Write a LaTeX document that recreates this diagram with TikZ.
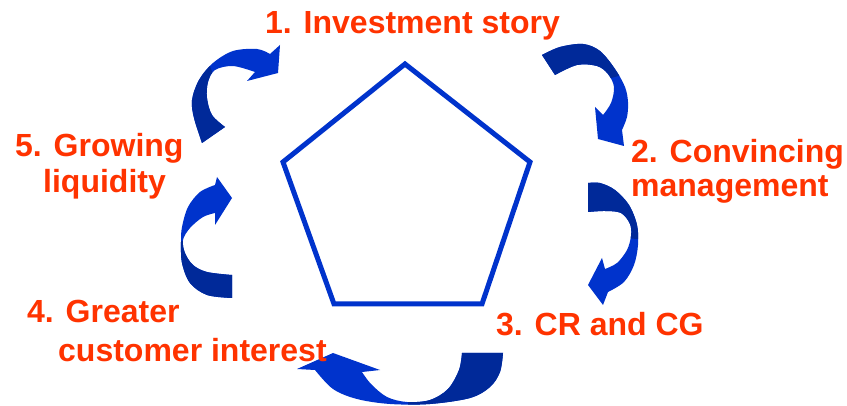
\documentclass[tikz,border=0pt]{standalone}
\usepackage{fontspec}
\setmainfont{Liberation Sans}
\definecolor{labelred}{RGB}{255,51,0}
\definecolor{brightblue}{RGB}{0,51,204}
\definecolor{darkblue}{RGB}{0,41,153}
\def\arrA{plot[smooth,tension=0.55] coordinates {(202,143) (194,118) (192,100) (199,80) (213,63) (233,51) (257,49) (270,54)} -- (280,45) -- (278,73) -- (247,81) -- plot[smooth,tension=0.55] coordinates {(255,72) (233,66) (215,70) (208,82) (207,98) (212,115) (225,127)} -- cycle}
\def\arrB{plot[smooth,tension=0.55] coordinates {(542,55) (560,47) (583,44) (600,51) (615,69) (625,87) (628,102) (627,117) (622,130)} -- (624,146) -- (598,139) -- (595,107) -- plot[smooth,tension=0.55] coordinates {(603,115) (611,103) (614,87) (608,74) (597,66) (577,65) (555,75)} -- cycle}
\def\arrC{plot[smooth,tension=0.55] coordinates {(588,183) (600,183) (615,190) (629,205) (637,225) (638,245) (634,265) (624,282) (608,292)} -- (603,305) -- (588,285) -- (602,258) -- plot[smooth,tension=0.55] coordinates {(605,269) (617,263) (627,250) (631,236) (630,224) (621,213) (605,211) (588,212)} -- cycle}
\def\arrD{plot[smooth,tension=0.55] coordinates {(315,370) (333,389) (357,399) (390,404) (430,404) (470,398) (490,387) (500,372) (503,353)} -- (462,353) -- plot[smooth,tension=0.55] coordinates {(462,353) (459,370) (448,389) (430,400) (407,402) (387,397) (371,384) (362,372)} -- (380,370) -- (333,353) -- (297,369) -- cycle}
\def\arrE{plot[smooth,tension=0.55] coordinates {(215,185) (200,192) (188,207) (182,227) (181,242) (182,263) (190,283) (207,295) (232,298)} -- (232,275) -- plot[smooth,tension=0.55] coordinates {(232,275) (207,272) (193,265) (185,253) (183,240) (190,228) (203,217) (215,213)} -- (215,225) -- (232,198) -- (217,177) -- cycle}
\begin{document}
\begin{tikzpicture}[x=1pt,y=-1pt,
  steplabel/.style={text=labelred, font=\fontsize{32}{38}\selectfont\bfseries, inner sep=0pt, anchor=base west},
  pent/.style={draw=brightblue, line width=5pt, line join=miter},
  arrowbody/.style={fill=brightblue},
  arrowback/.style={fill=darkblue}]
\useasboundingbox[fill=white] (0,0) rectangle (847,406);
% pentagon
\coordinate (pT) at (405,64);
\coordinate (pR) at (530,162);
\coordinate (pBR) at (482,304);
\coordinate (pBL) at (334,304);
\coordinate (pL) at (283,162);
\draw[pent] (pT) -- (pR) -- (pBR) -- (pBL) -- (pL) -- cycle;
% curved arrows
\fill[arrowbody] \arrA;
\begin{scope}\clip \arrA; \fill[arrowback] (180,82) -- (210,66) -- (240,150) -- (180,150) -- cycle;\end{scope}
\fill[arrowbody] \arrB;
\begin{scope}\clip \arrB; \fill[arrowback] (530,30) -- (622,30) -- (622,75) -- (604,80) -- (540,95) -- cycle;\end{scope}
\fill[arrowbody] \arrC;
\begin{scope}\clip \arrC; \fill[arrowback] (580,170) -- (650,170) -- (650,240) -- (625,238) -- (580,225) -- cycle;\end{scope}
\fill[arrowbody] \arrD;
\begin{scope}\clip \arrD; \fill[arrowback] (408,340) -- (520,340) -- (520,410) -- (408,410) -- cycle;\end{scope}
\fill[arrowbody] \arrE;
\begin{scope}\clip \arrE; \fill[arrowback] (170,241) -- (240,241) -- (240,310) -- (170,310) -- cycle;\end{scope}
% labels
\node[steplabel] (t1) at (265,34) {1. Investment story};
\node[steplabel] (t2a) at (631,163) {2. Convincing};
\node[steplabel] (t2b) at (631,197) {management};
\node[steplabel] (t3) at (496,336) {3. CR and CG};
\node[steplabel] (t4a) at (27,323) {4. Greater};
\node[steplabel] (t4b) at (58,362) {customer interest};
\node[steplabel] (t5a) at (15,157) {5. Growing};
\node[steplabel] (t5b) at (43,193) {liquidity};
\end{tikzpicture}
\end{document}
